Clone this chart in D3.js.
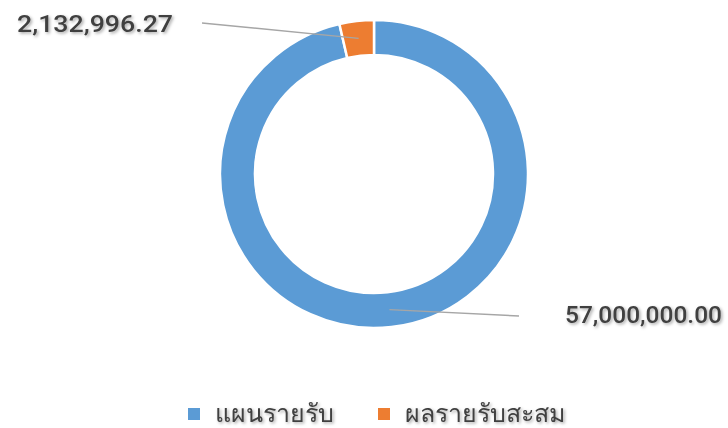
<!DOCTYPE html>
<html lang="th">
<head>
  <meta charset="UTF-8">
  <title>Donut</title>
  <script src="https://d3js.org/d3.v7.min.js"></script>
  <style>
    body { margin: 0; background: #fff; }
    svg { display: block; }
    text { font-family: Roboto, "DejaVu Sans", sans-serif; fill: #404040; }
  </style>
</head>
<body>
  <svg id="chart" width="728" height="428"></svg>
  <script>
    const categories = ["แผนรายรับ", "ผลรายรับสะสม"];
    const values = [57000000.00, 2132996.27];
    const labels = ["57,000,000.00", "2,132,996.27"];
    const colors = ["#5B9BD5", "#ED7D31"];

    const svg = d3.select("#chart");
    const cx = 374, cy = 174;
    const outerR = 154, innerR = 119;

    const defs = svg.append("defs");
    const f = defs.append("filter").attr("id", "shadow")
      .attr("x", "-10%").attr("y", "-30%").attr("width", "120%").attr("height", "160%");
    f.append("feDropShadow").attr("dx", 1.5).attr("dy", 1.5)
      .attr("stdDeviation", 1.5).attr("flood-color", "#000").attr("flood-opacity", 0.35);

    const pie = d3.pie().sort(null).value(d => d);
    const arcs = pie(values);
    const arc = d3.arc().innerRadius(innerR).outerRadius(outerR);
    const midArc = d3.arc().innerRadius((innerR + outerR) / 2).outerRadius((innerR + outerR) / 2);

    const g = svg.append("g").attr("transform", `translate(${cx},${cy})`);

    g.selectAll("path")
      .data(arcs)
      .enter().append("path")
      .attr("d", arc)
      .attr("fill", (d, i) => colors[i])
      .attr("stroke", "#fff")
      .attr("stroke-width", 2.5);

    // label ends, relative to centre
    const labelEnds = [[145, 142], [-172, -151]];
    const textPos = [[191, 141, "start", 157], [-201, -150, "end", 156]];

    g.selectAll("line.leader")
      .data(arcs)
      .enter().append("line")
      .attr("class", "leader")
      .attr("x1", d => midArc.centroid(d)[0])
      .attr("y1", d => midArc.centroid(d)[1])
      .attr("x2", (d, i) => labelEnds[i][0])
      .attr("y2", (d, i) => labelEnds[i][1])
      .attr("stroke", "#A6A6A6")
      .attr("stroke-width", 1.5);

    g.selectAll("text.val")
      .data(arcs)
      .enter().append("text")
      .attr("class", "val")
      .attr("x", (d, i) => textPos[i][0])
      .attr("y", (d, i) => textPos[i][1])
      .attr("dy", "0.35em")
      .attr("text-anchor", (d, i) => textPos[i][2])
      .attr("font-size", 24)
      .attr("font-weight", 500)
      .attr("textLength", (d, i) => textPos[i][3])
      .attr("lengthAdjust", "spacingAndGlyphs")
      .attr("filter", "url(#shadow)")
      .text((d, i) => labels[i]);

    // legend
    const legendX = [188, 378];
    const legend = svg.append("g");
    categories.forEach((c, i) => {
      legend.append("rect")
        .attr("x", legendX[i]).attr("y", 408)
        .attr("width", 12).attr("height", 12)
        .attr("fill", colors[i]);
      legend.append("text")
        .attr("x", legendX[i] + 27).attr("y", 413)
        .attr("dy", "0.35em")
        .attr("font-size", 25)
        .attr("filter", "url(#shadow)")
        .text(c);
    });
  </script>
</body>
</html>
